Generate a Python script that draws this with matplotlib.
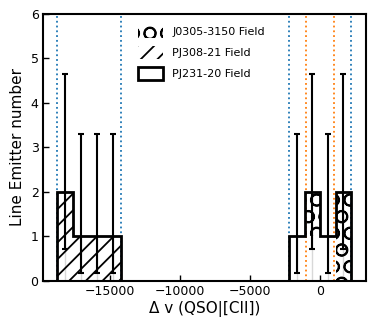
import numpy as np
import matplotlib
matplotlib.use("Agg")
import matplotlib.pyplot as plt
from matplotlib.patches import Patch

# ---- data ----
left_edges = [-18800, -17650, -16500, -15350, -14200]
right_edges = [-2200, -1100, 0, 1100, 2200]
pj308_counts = [2, 1, 1, 1]          # left cluster
pj231_counts = [1, 1, 1, 0]          # right cluster (bottom)
j0305_counts = [0, 1, 0, 2]          # right cluster (stacked on top)
# Poisson (Gehrels) error bars for totals
left_err_low = [1.292, 0.827, 0.827, 0.827]
left_err_up = [2.638, 2.300, 2.300, 2.300]
right_err_low = [0.827, 1.292, 0.827, 1.292]
right_err_up = [2.300, 2.638, 2.300, 2.638]
blue_lines = [-18800, -14200, -2200, 2200]
orange_lines = [-1000, 1000]
labels = ["J0305-3150 Field", "PJ308-21 Field", "PJ231-20 Field"]
xticks = [-15000, -10000, -5000, 0]
yticks = [0, 1, 2, 3, 4, 5, 6]

plt.rcParams['hatch.linewidth'] = 1.3

fig = plt.figure(figsize=(3.74, 3.30), dpi=100)
ax = fig.add_axes([0.116, 0.150, 0.862, 0.808])

le = np.array(left_edges, float)
re = np.array(right_edges, float)
lc = 0.5 * (le[:-1] + le[1:]); lw_ = np.diff(le)
rc = 0.5 * (re[:-1] + re[1:]); rw_ = np.diff(re)
pj308 = np.array(pj308_counts, float)
pj231 = np.array(pj231_counts, float)
j0305 = np.array(j0305_counts, float)
rtot = pj231 + j0305

# faint centre lines
ax.vlines(lc, 0, pj308, color='#d8d8d8', lw=1.0, zorder=1)
ax.vlines(rc, 0, rtot, color='#d8d8d8', lw=1.0, zorder=1)

# hatches
ax.bar(lc, pj308, width=lw_, fill=False, hatch='//', edgecolor='k', lw=0, zorder=2)
ax.bar(rc, j0305, width=rw_, bottom=pj231, fill=False, hatch='O', edgecolor='k', lw=0, zorder=2)

# vertical dotted lines
for v in blue_lines:
    ax.axvline(v, color='#1f77b4', ls=':', lw=1.3, zorder=2.5)
for v in orange_lines:
    ax.axvline(v, color='#ff7f0e', ls=':', lw=1.3, zorder=2.5)

# outlines
ax.stairs(pj308, le, baseline=0, color='k', lw=2.0, zorder=3)
ax.stairs(rtot, re, baseline=0, color='k', lw=2.0, zorder=3)

# error bars
ax.errorbar(lc, pj308, yerr=[left_err_low, left_err_up], fmt='none', ecolor='k',
            elinewidth=1.5, capsize=2.5, capthick=1.5, zorder=4)
ax.errorbar(rc, rtot, yerr=[right_err_low, right_err_up], fmt='none', ecolor='k',
            elinewidth=1.5, capsize=2.5, capthick=1.5, zorder=4)

ax.set_xlim(-19780, 3260)
ax.set_ylim(0, 6)
ax.set_xticks(xticks)
ax.set_yticks(yticks)
ax.tick_params(direction='in', labelsize=9, length=4, width=1)
for s in ax.spines.values():
    s.set_linewidth(1.5)
ax.set_xlabel('Δ v (QSO|[CII])', fontsize=11, labelpad=2)
ax.set_ylabel('Line Emitter number', fontsize=11, labelpad=4)

handles = [Patch(fill=False, hatch='O', edgecolor='k', lw=0),
           Patch(fill=False, hatch='//', edgecolor='k', lw=0),
           Patch(fill=False, edgecolor='k', lw=2.0)]
ax.legend(handles, labels, loc='upper center', frameon=False, fontsize=8,
          handlelength=2.3, handleheight=1.4, labelspacing=0.75,
          borderaxespad=0.6, bbox_to_anchor=(0.49, 1.0))

fig.savefig('out.png', dpi=100)
